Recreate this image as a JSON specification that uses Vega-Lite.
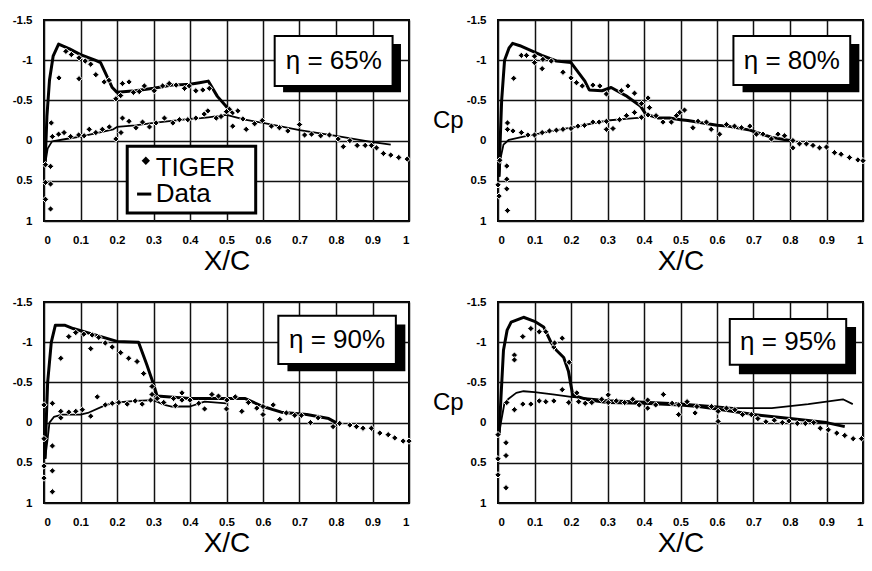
{
 "$schema": "https://vega.github.io/schema/vega-lite/v6.json",
 "padding": {"left": 11, "top": 13, "right": 5, "bottom": 5},
 "background": "white",
 "config": {
  "view": {"stroke": "#000", "strokeWidth": 2},
  "font": "Liberation Sans",
  "axis": {"grid": true, "gridColor": "#111", "gridWidth": 1.5, "gridOpacity": 1, "domain": false, "ticks": false, "labelOverlap": false, "labelFont": "Liberation Sans", "labelFontWeight": "bold", "labelFontSize": 11.5, "labelColor": "#000", "titleFont": "Liberation Sans", "titleFontWeight": "normal", "titleColor": "#000"},
  "axisX": {"labelPadding": 13, "titleFontSize": 28, "titlePadding": 2},
  "axisY": {"labelPadding": 12, "titleFontSize": 24, "titleAngle": 0, "titleAlign": "right", "titleBaseline": "middle", "titlePadding": 3}
 },
 "datasets": {
  "tiger": [
   {"p":"65","x":0.004,"cp":0.3},{"p":"65","x":0.018,"cp":0.32},{"p":"65","x":0.004,"cp":0.52},{"p":"65","x":0.018,"cp":0.54},{"p":"65","x":0.004,"cp":0.73},{"p":"65","x":0.018,"cp":0.85},{"p":"65","x":0.02,"cp":-0.22},
   {"p":"65","x":0.041,"cp":-0.78},{"p":"65","x":0.06,"cp":-1.11},{"p":"65","x":0.075,"cp":-1.07},{"p":"65","x":0.096,"cp":-1.03},{"p":"65","x":0.096,"cp":-0.77},{"p":"65","x":0.113,"cp":-0.99},{"p":"65","x":0.128,"cp":-0.95},{"p":"65","x":0.142,"cp":-0.82},{"p":"65","x":0.165,"cp":-0.73},{"p":"65","x":0.178,"cp":-0.75},{"p":"65","x":0.197,"cp":-0.52},{"p":"65","x":0.21,"cp":-0.56},{"p":"65","x":0.215,"cp":-0.71},{"p":"65","x":0.233,"cp":-0.73},{"p":"65","x":0.245,"cp":-0.6},{"p":"65","x":0.261,"cp":-0.61},{"p":"65","x":0.275,"cp":-0.68},{"p":"65","x":0.302,"cp":-0.62},{"p":"65","x":0.325,"cp":-0.68},{"p":"65","x":0.343,"cp":-0.71},{"p":"65","x":0.362,"cp":-0.69},{"p":"65","x":0.385,"cp":-0.65},{"p":"65","x":0.398,"cp":-0.68},{"p":"65","x":0.416,"cp":-0.62},{"p":"65","x":0.435,"cp":-0.63},{"p":"65","x":0.453,"cp":-0.65},{"p":"65","x":0.508,"cp":-0.39},
   {"p":"65","x":0.023,"cp":-0.05},{"p":"65","x":0.04,"cp":-0.08},{"p":"65","x":0.055,"cp":-0.1},{"p":"65","x":0.073,"cp":-0.05},{"p":"65","x":0.095,"cp":-0.07},{"p":"65","x":0.11,"cp":-0.06},{"p":"65","x":0.124,"cp":-0.14},{"p":"65","x":0.142,"cp":-0.1},{"p":"65","x":0.16,"cp":-0.14},{"p":"65","x":0.179,"cp":-0.17},{"p":"65","x":0.197,"cp":-0.02},{"p":"65","x":0.211,"cp":-0.1},{"p":"65","x":0.215,"cp":-0.28},{"p":"65","x":0.233,"cp":-0.24},{"p":"65","x":0.252,"cp":-0.16},{"p":"65","x":0.27,"cp":-0.23},{"p":"65","x":0.289,"cp":-0.17},{"p":"65","x":0.307,"cp":-0.22},{"p":"65","x":0.33,"cp":-0.28},{"p":"65","x":0.353,"cp":-0.22},{"p":"65","x":0.371,"cp":-0.26},{"p":"65","x":0.394,"cp":-0.26},{"p":"65","x":0.416,"cp":-0.28},{"p":"65","x":0.439,"cp":-0.33},{"p":"65","x":0.449,"cp":-0.37},{"p":"65","x":0.472,"cp":-0.28},{"p":"65","x":0.485,"cp":-0.3},{"p":"65","x":0.5,"cp":-0.36},{"p":"65","x":0.517,"cp":-0.18},{"p":"65","x":0.531,"cp":-0.37},{"p":"65","x":0.545,"cp":-0.27},{"p":"65","x":0.554,"cp":-0.14},{"p":"65","x":0.577,"cp":-0.21},{"p":"65","x":0.598,"cp":-0.25},{"p":"65","x":0.623,"cp":-0.18},{"p":"65","x":0.645,"cp":-0.16},{"p":"65","x":0.668,"cp":-0.12},{"p":"65","x":0.7,"cp":-0.2},{"p":"65","x":0.714,"cp":-0.07},{"p":"65","x":0.733,"cp":-0.08},{"p":"65","x":0.758,"cp":-0.06},{"p":"65","x":0.782,"cp":-0.07},{"p":"65","x":0.806,"cp":-0.02},{"p":"65","x":0.82,"cp":0.075},{"p":"65","x":0.838,"cp":0.0},{"p":"65","x":0.858,"cp":0.06},{"p":"65","x":0.88,"cp":0.06},{"p":"65","x":0.897,"cp":0.06},{"p":"65","x":0.911,"cp":0.09},{"p":"65","x":0.93,"cp":0.16},{"p":"65","x":0.95,"cp":0.18},{"p":"65","x":0.972,"cp":0.21},{"p":"65","x":0.995,"cp":0.23},
   {"p":"80","x":0.005,"cp":0.245},{"p":"80","x":0.024,"cp":0.316},{"p":"80","x":0.024,"cp":0.48},{"p":"80","x":0.0,"cp":0.55},{"p":"80","x":0.003,"cp":0.69},{"p":"80","x":0.024,"cp":0.6},{"p":"80","x":0.026,"cp":0.87},{"p":"80","x":0.026,"cp":-0.22},{"p":"80","x":0.026,"cp":-0.14},
   {"p":"80","x":0.043,"cp":-0.775},{"p":"80","x":0.064,"cp":-1.06},{"p":"80","x":0.078,"cp":-1.06},{"p":"80","x":0.1,"cp":-1.05},{"p":"80","x":0.1,"cp":-0.97},{"p":"80","x":0.121,"cp":-0.895},{"p":"80","x":0.123,"cp":-1.01},{"p":"80","x":0.146,"cp":-0.99},{"p":"80","x":0.178,"cp":-0.85},{"p":"80","x":0.2,"cp":-0.78},{"p":"80","x":0.215,"cp":-0.72},{"p":"80","x":0.231,"cp":-0.68},{"p":"80","x":0.26,"cp":-0.69},{"p":"80","x":0.279,"cp":-0.68},{"p":"80","x":0.297,"cp":-0.58},{"p":"80","x":0.338,"cp":-0.62},{"p":"80","x":0.356,"cp":-0.68},{"p":"80","x":0.374,"cp":-0.59},{"p":"80","x":0.393,"cp":-0.46},{"p":"80","x":0.411,"cp":-0.53},{"p":"80","x":0.415,"cp":-0.41},
   {"p":"80","x":0.041,"cp":-0.12},{"p":"80","x":0.064,"cp":-0.1},{"p":"80","x":0.082,"cp":-0.07},{"p":"80","x":0.1,"cp":-0.07},{"p":"80","x":0.121,"cp":-0.1},{"p":"80","x":0.141,"cp":-0.12},{"p":"80","x":0.16,"cp":-0.13},{"p":"80","x":0.178,"cp":-0.14},{"p":"80","x":0.2,"cp":-0.15},{"p":"80","x":0.219,"cp":-0.18},{"p":"80","x":0.237,"cp":-0.19},{"p":"80","x":0.26,"cp":-0.23},{"p":"80","x":0.277,"cp":-0.23},{"p":"80","x":0.297,"cp":-0.24},{"p":"80","x":0.297,"cp":-0.14},{"p":"80","x":0.315,"cp":-0.15},{"p":"80","x":0.333,"cp":-0.26},{"p":"80","x":0.352,"cp":-0.31},{"p":"80","x":0.374,"cp":-0.35},{"p":"80","x":0.393,"cp":-0.29},{"p":"80","x":0.411,"cp":-0.32},{"p":"80","x":0.433,"cp":-0.31},{"p":"80","x":0.452,"cp":-0.23},{"p":"80","x":0.475,"cp":-0.23},{"p":"80","x":0.489,"cp":-0.31},{"p":"80","x":0.498,"cp":-0.35},{"p":"80","x":0.511,"cp":-0.38},{"p":"80","x":0.534,"cp":-0.16},{"p":"80","x":0.548,"cp":-0.24},{"p":"80","x":0.571,"cp":-0.23},{"p":"80","x":0.584,"cp":-0.14},{"p":"80","x":0.607,"cp":-0.08},{"p":"80","x":0.626,"cp":-0.2},{"p":"80","x":0.648,"cp":-0.18},{"p":"80","x":0.667,"cp":-0.16},{"p":"80","x":0.69,"cp":-0.18},{"p":"80","x":0.708,"cp":-0.08},{"p":"80","x":0.726,"cp":-0.08},{"p":"80","x":0.749,"cp":-0.02},{"p":"80","x":0.767,"cp":-0.08},{"p":"80","x":0.785,"cp":-0.06},{"p":"80","x":0.808,"cp":0.09},{"p":"80","x":0.808,"cp":0.0},{"p":"80","x":0.826,"cp":0.04},{"p":"80","x":0.845,"cp":0.04},{"p":"80","x":0.863,"cp":0.06},{"p":"80","x":0.881,"cp":0.09},{"p":"80","x":0.9,"cp":0.08},{"p":"80","x":0.922,"cp":0.15},{"p":"80","x":0.94,"cp":0.17},{"p":"80","x":0.963,"cp":0.21},{"p":"80","x":0.986,"cp":0.24},{"p":"80","x":1.0,"cp":0.25},
   {"p":"90","x":0.0,"cp":-0.22},{"p":"90","x":0.0,"cp":0.2},{"p":"90","x":0.023,"cp":0.29},{"p":"90","x":0.0,"cp":0.54},{"p":"90","x":0.023,"cp":0.6},{"p":"90","x":0.0,"cp":0.69},{"p":"90","x":0.023,"cp":0.86},
   {"p":"90","x":0.046,"cp":-0.8},{"p":"90","x":0.068,"cp":-1.07},{"p":"90","x":0.087,"cp":-1.12},{"p":"90","x":0.109,"cp":-1.1},{"p":"90","x":0.128,"cp":-0.92},{"p":"90","x":0.132,"cp":-1.09},{"p":"90","x":0.15,"cp":-1.06},{"p":"90","x":0.168,"cp":-0.99},{"p":"90","x":0.187,"cp":-0.94},{"p":"90","x":0.21,"cp":-0.87},{"p":"90","x":0.232,"cp":-0.8},{"p":"90","x":0.255,"cp":-0.76},{"p":"90","x":0.273,"cp":-0.61},{"p":"90","x":0.296,"cp":-0.45},{"p":"90","x":0.296,"cp":-0.35},
   {"p":"90","x":0.023,"cp":-0.24},{"p":"90","x":0.046,"cp":-0.14},{"p":"90","x":0.046,"cp":-0.06},{"p":"90","x":0.068,"cp":-0.13},{"p":"90","x":0.087,"cp":-0.14},{"p":"90","x":0.105,"cp":-0.16},{"p":"90","x":0.128,"cp":-0.08},{"p":"90","x":0.146,"cp":-0.32},{"p":"90","x":0.168,"cp":-0.22},{"p":"90","x":0.187,"cp":-0.24},{"p":"90","x":0.205,"cp":-0.25},{"p":"90","x":0.228,"cp":-0.23},{"p":"90","x":0.25,"cp":-0.27},{"p":"90","x":0.269,"cp":-0.23},{"p":"90","x":0.292,"cp":-0.28},{"p":"90","x":0.31,"cp":-0.3},{"p":"90","x":0.328,"cp":-0.25},{"p":"90","x":0.355,"cp":-0.3},{"p":"90","x":0.36,"cp":-0.21},{"p":"90","x":0.378,"cp":-0.37},{"p":"90","x":0.378,"cp":-0.28},{"p":"90","x":0.4,"cp":-0.28},{"p":"90","x":0.424,"cp":-0.24},{"p":"90","x":0.44,"cp":-0.17},{"p":"90","x":0.46,"cp":-0.35},{"p":"90","x":0.478,"cp":-0.33},{"p":"90","x":0.5,"cp":-0.17},{"p":"90","x":0.501,"cp":-0.28},{"p":"90","x":0.524,"cp":-0.32},{"p":"90","x":0.542,"cp":-0.14},{"p":"90","x":0.56,"cp":-0.25},{"p":"90","x":0.583,"cp":-0.18},{"p":"90","x":0.6,"cp":-0.2},{"p":"90","x":0.6,"cp":-0.1},{"p":"90","x":0.628,"cp":-0.22},{"p":"90","x":0.646,"cp":-0.04},{"p":"90","x":0.664,"cp":-0.12},{"p":"90","x":0.687,"cp":-0.09},{"p":"90","x":0.705,"cp":-0.09},{"p":"90","x":0.73,"cp":0.0},{"p":"90","x":0.751,"cp":-0.06},{"p":"90","x":0.792,"cp":0.05},{"p":"90","x":0.81,"cp":0.01},{"p":"90","x":0.838,"cp":0.03},{"p":"90","x":0.856,"cp":0.05},{"p":"90","x":0.874,"cp":0.07},{"p":"90","x":0.897,"cp":0.07},{"p":"90","x":0.92,"cp":0.13},{"p":"90","x":0.943,"cp":0.15},{"p":"90","x":0.961,"cp":0.19},{"p":"90","x":0.984,"cp":0.23},{"p":"90","x":1.0,"cp":0.23},
   {"p":"95","x":0.0,"cp":0.15},{"p":"95","x":0.022,"cp":0.25},{"p":"95","x":0.0,"cp":0.45},{"p":"95","x":0.022,"cp":0.41},{"p":"95","x":0.0,"cp":0.65},{"p":"95","x":0.022,"cp":0.81},{"p":"95","x":0.024,"cp":-0.25},
   {"p":"95","x":0.045,"cp":-0.84},{"p":"95","x":0.045,"cp":-0.78},{"p":"95","x":0.068,"cp":-1.07},{"p":"95","x":0.09,"cp":-1.17},{"p":"95","x":0.113,"cp":-1.13},{"p":"95","x":0.131,"cp":-1.13},{"p":"95","x":0.153,"cp":-0.94},{"p":"95","x":0.155,"cp":-0.99},{"p":"95","x":0.176,"cp":-1.05},{"p":"95","x":0.195,"cp":-0.75},{"p":"95","x":0.216,"cp":-0.37},
   {"p":"95","x":0.045,"cp":-0.16},{"p":"95","x":0.068,"cp":-0.23},{"p":"95","x":0.09,"cp":-0.23},{"p":"95","x":0.113,"cp":-0.27},{"p":"95","x":0.131,"cp":-0.26},{"p":"95","x":0.153,"cp":-0.27},{"p":"95","x":0.176,"cp":-0.41},{"p":"95","x":0.194,"cp":-0.25},{"p":"95","x":0.221,"cp":-0.26},{"p":"95","x":0.239,"cp":-0.24},{"p":"95","x":0.257,"cp":-0.25},{"p":"95","x":0.284,"cp":-0.29},{"p":"95","x":0.302,"cp":-0.345},{"p":"95","x":0.302,"cp":-0.25},{"p":"95","x":0.324,"cp":-0.27},{"p":"95","x":0.347,"cp":-0.25},{"p":"95","x":0.369,"cp":-0.29},{"p":"95","x":0.387,"cp":-0.22},{"p":"95","x":0.41,"cp":-0.28},{"p":"95","x":0.41,"cp":-0.18},{"p":"95","x":0.432,"cp":-0.22},{"p":"95","x":0.453,"cp":-0.35},{"p":"95","x":0.477,"cp":-0.24},{"p":"95","x":0.495,"cp":-0.22},{"p":"95","x":0.495,"cp":-0.1},{"p":"95","x":0.518,"cp":-0.26},{"p":"95","x":0.54,"cp":-0.12},{"p":"95","x":0.545,"cp":-0.2},{"p":"95","x":0.585,"cp":-0.2},{"p":"95","x":0.603,"cp":-0.14},{"p":"95","x":0.603,"cp":-0.015},{"p":"95","x":0.626,"cp":-0.18},{"p":"95","x":0.649,"cp":-0.16},{"p":"95","x":0.67,"cp":-0.1},{"p":"95","x":0.694,"cp":-0.1},{"p":"95","x":0.712,"cp":-0.05},{"p":"95","x":0.734,"cp":-0.01},{"p":"95","x":0.757,"cp":-0.03},{"p":"95","x":0.779,"cp":0.0},{"p":"95","x":0.797,"cp":-0.02},{"p":"95","x":0.82,"cp":0.01},{"p":"95","x":0.842,"cp":0.01},{"p":"95","x":0.865,"cp":0.0},{"p":"95","x":0.883,"cp":0.07},{"p":"95","x":0.905,"cp":0.09},{"p":"95","x":0.928,"cp":0.13},{"p":"95","x":0.95,"cp":0.16},{"p":"95","x":0.973,"cp":0.2},{"p":"95","x":0.996,"cp":0.2}
  ],
  "exp": [
   {"p":"65","s":"u","x":0.003,"cp":0.3},{"p":"65","s":"u","x":0.008,"cp":-0.3},{"p":"65","s":"u","x":0.015,"cp":-0.75},{"p":"65","s":"u","x":0.025,"cp":-1.05},{"p":"65","s":"u","x":0.04,"cp":-1.2},{"p":"65","s":"u","x":0.07,"cp":-1.14},{"p":"65","s":"u","x":0.1,"cp":-1.07},{"p":"65","s":"u","x":0.14,"cp":-1.0},{"p":"65","s":"u","x":0.155,"cp":-0.97},{"p":"65","s":"u","x":0.187,"cp":-0.66},{"p":"65","s":"u","x":0.2,"cp":-0.6},{"p":"65","s":"u","x":0.25,"cp":-0.62},{"p":"65","s":"u","x":0.3,"cp":-0.65},{"p":"65","s":"u","x":0.35,"cp":-0.69},{"p":"65","s":"u","x":0.4,"cp":-0.7},{"p":"65","s":"u","x":0.426,"cp":-0.72},{"p":"65","s":"u","x":0.45,"cp":-0.74},{"p":"65","s":"u","x":0.475,"cp":-0.55},{"p":"65","s":"u","x":0.5,"cp":-0.42},{"p":"65","s":"u","x":0.52,"cp":-0.33},
   {"p":"65","s":"l","x":0.003,"cp":0.3},{"p":"65","s":"l","x":0.01,"cp":0.1},{"p":"65","s":"l","x":0.022,"cp":0.01},{"p":"65","s":"l","x":0.06,"cp":-0.02},{"p":"65","s":"l","x":0.1,"cp":-0.05},{"p":"65","s":"l","x":0.15,"cp":-0.1},{"p":"65","s":"l","x":0.19,"cp":-0.14},{"p":"65","s":"l","x":0.2,"cp":-0.17},{"p":"65","s":"l","x":0.25,"cp":-0.19},{"p":"65","s":"l","x":0.3,"cp":-0.22},{"p":"65","s":"l","x":0.4,"cp":-0.27},{"p":"65","s":"l","x":0.43,"cp":-0.28},{"p":"65","s":"l","x":0.45,"cp":-0.29},{"p":"65","s":"l","x":0.5,"cp":-0.32},{"p":"65","s":"l","x":0.55,"cp":-0.26},{"p":"65","s":"l","x":0.6,"cp":-0.22},{"p":"65","s":"l","x":0.7,"cp":-0.13},{"p":"65","s":"l","x":0.8,"cp":-0.06},{"p":"65","s":"l","x":0.9,"cp":0.02},{"p":"65","s":"l","x":0.95,"cp":0.05},
   {"p":"80","s":"u","x":0.003,"cp":0.45},{"p":"80","s":"u","x":0.006,"cp":0.0},{"p":"80","s":"u","x":0.01,"cp":-0.5},{"p":"80","s":"u","x":0.018,"cp":-1.0},{"p":"80","s":"u","x":0.03,"cp":-1.15},{"p":"80","s":"u","x":0.04,"cp":-1.21},{"p":"80","s":"u","x":0.06,"cp":-1.18},{"p":"80","s":"u","x":0.08,"cp":-1.14},{"p":"80","s":"u","x":0.12,"cp":-1.06},{"p":"80","s":"u","x":0.16,"cp":-0.99},{"p":"80","s":"u","x":0.2,"cp":-0.97},{"p":"80","s":"u","x":0.238,"cp":-0.74},{"p":"80","s":"u","x":0.25,"cp":-0.63},{"p":"80","s":"u","x":0.285,"cp":-0.62},{"p":"80","s":"u","x":0.31,"cp":-0.66},{"p":"80","s":"u","x":0.35,"cp":-0.56},{"p":"80","s":"u","x":0.39,"cp":-0.43},{"p":"80","s":"u","x":0.405,"cp":-0.33},{"p":"80","s":"u","x":0.44,"cp":-0.28},{"p":"80","s":"u","x":0.47,"cp":-0.28},{"p":"80","s":"u","x":0.5,"cp":-0.26},{"p":"80","s":"u","x":0.52,"cp":-0.25},{"p":"80","s":"u","x":0.6,"cp":-0.19},{"p":"80","s":"u","x":0.63,"cp":-0.18},{"p":"80","s":"u","x":0.69,"cp":-0.13},{"p":"80","s":"u","x":0.75,"cp":-0.04},{"p":"80","s":"u","x":0.8,"cp":0.0},
   {"p":"80","s":"l","x":0.003,"cp":0.45},{"p":"80","s":"l","x":0.008,"cp":0.2},{"p":"80","s":"l","x":0.015,"cp":0.05},{"p":"80","s":"l","x":0.03,"cp":-0.01},{"p":"80","s":"l","x":0.07,"cp":-0.05},{"p":"80","s":"l","x":0.15,"cp":-0.12},{"p":"80","s":"l","x":0.2,"cp":-0.16},{"p":"80","s":"l","x":0.3,"cp":-0.25},{"p":"80","s":"l","x":0.35,"cp":-0.27},{"p":"80","s":"l","x":0.4,"cp":-0.29},
   {"p":"90","s":"u","x":0.003,"cp":0.45},{"p":"90","s":"u","x":0.006,"cp":0.0},{"p":"90","s":"u","x":0.01,"cp":-0.5},{"p":"90","s":"u","x":0.02,"cp":-1.0},{"p":"90","s":"u","x":0.031,"cp":-1.21},{"p":"90","s":"u","x":0.058,"cp":-1.21},{"p":"90","s":"u","x":0.08,"cp":-1.17},{"p":"90","s":"u","x":0.2,"cp":-1.01},{"p":"90","s":"u","x":0.259,"cp":-1.0},{"p":"90","s":"u","x":0.281,"cp":-0.73},{"p":"90","s":"u","x":0.3,"cp":-0.48},{"p":"90","s":"u","x":0.31,"cp":-0.33},{"p":"90","s":"u","x":0.4,"cp":-0.3},{"p":"90","s":"u","x":0.5,"cp":-0.3},{"p":"90","s":"u","x":0.55,"cp":-0.3},{"p":"90","s":"u","x":0.6,"cp":-0.2},{"p":"90","s":"u","x":0.65,"cp":-0.13},{"p":"90","s":"u","x":0.72,"cp":-0.1},{"p":"90","s":"u","x":0.78,"cp":-0.05},{"p":"90","s":"u","x":0.8,"cp":0.0},
   {"p":"90","s":"l","x":0.003,"cp":0.45},{"p":"90","s":"l","x":0.01,"cp":0.2},{"p":"90","s":"l","x":0.015,"cp":0.0},{"p":"90","s":"l","x":0.027,"cp":-0.07},{"p":"90","s":"l","x":0.05,"cp":-0.1},{"p":"90","s":"l","x":0.1,"cp":-0.1},{"p":"90","s":"l","x":0.12,"cp":-0.12},{"p":"90","s":"l","x":0.17,"cp":-0.22},{"p":"90","s":"l","x":0.2,"cp":-0.25},{"p":"90","s":"l","x":0.25,"cp":-0.27},{"p":"90","s":"l","x":0.3,"cp":-0.28},{"p":"90","s":"l","x":0.33,"cp":-0.22},{"p":"90","s":"l","x":0.35,"cp":-0.2},{"p":"90","s":"l","x":0.4,"cp":-0.2},{"p":"90","s":"l","x":0.44,"cp":-0.26},{"p":"90","s":"l","x":0.5,"cp":-0.24},
   {"p":"95","s":"u","x":0.003,"cp":0.15},{"p":"95","s":"u","x":0.008,"cp":-0.3},{"p":"95","s":"u","x":0.015,"cp":-0.9},{"p":"95","s":"u","x":0.025,"cp":-1.15},{"p":"95","s":"u","x":0.036,"cp":-1.25},{"p":"95","s":"u","x":0.07,"cp":-1.31},{"p":"95","s":"u","x":0.1,"cp":-1.26},{"p":"95","s":"u","x":0.125,"cp":-1.19},{"p":"95","s":"u","x":0.145,"cp":-1.0},{"p":"95","s":"u","x":0.16,"cp":-0.9},{"p":"95","s":"u","x":0.18,"cp":-0.81},{"p":"95","s":"u","x":0.193,"cp":-0.64},{"p":"95","s":"u","x":0.2,"cp":-0.46},{"p":"95","s":"u","x":0.205,"cp":-0.34},{"p":"95","s":"u","x":0.25,"cp":-0.28},{"p":"95","s":"u","x":0.3,"cp":-0.25},{"p":"95","s":"u","x":0.4,"cp":-0.24},{"p":"95","s":"u","x":0.5,"cp":-0.22},{"p":"95","s":"u","x":0.55,"cp":-0.2},{"p":"95","s":"u","x":0.6,"cp":-0.17},{"p":"95","s":"u","x":0.7,"cp":-0.1},{"p":"95","s":"u","x":0.8,"cp":-0.05},{"p":"95","s":"u","x":0.9,"cp":0.0},{"p":"95","s":"u","x":0.95,"cp":0.05},
   {"p":"95","s":"l","x":0.003,"cp":0.15},{"p":"95","s":"l","x":0.008,"cp":0.0},{"p":"95","s":"l","x":0.018,"cp":-0.25},{"p":"95","s":"l","x":0.03,"cp":-0.3},{"p":"95","s":"l","x":0.05,"cp":-0.37},{"p":"95","s":"l","x":0.07,"cp":-0.39},{"p":"95","s":"l","x":0.1,"cp":-0.38},{"p":"95","s":"l","x":0.15,"cp":-0.35},{"p":"95","s":"l","x":0.2,"cp":-0.32},{"p":"95","s":"l","x":0.3,"cp":-0.28},{"p":"95","s":"l","x":0.4,"cp":-0.26},{"p":"95","s":"l","x":0.5,"cp":-0.24},{"p":"95","s":"l","x":0.6,"cp":-0.2},{"p":"95","s":"l","x":0.65,"cp":-0.18},{"p":"95","s":"l","x":0.75,"cp":-0.18},{"p":"95","s":"l","x":0.85,"cp":-0.23},{"p":"95","s":"l","x":0.945,"cp":-0.29},{"p":"95","s":"l","x":0.972,"cp":-0.23}
  ],
  "notes": [
   {"p":"65","k":"shadow","x":0.655,"x2":0.978,"cp":-1.2,"cp2":-0.6},
   {"p":"65","k":"box","x":0.632,"x2":0.955,"cp":-1.3,"cp2":-0.68},
   {"p":"80","k":"shadow","x":0.67,"x2":0.99,"cp":-1.2,"cp2":-0.6},
   {"p":"80","k":"box","x":0.645,"x2":0.965,"cp":-1.3,"cp2":-0.69},
   {"p":"90","k":"shadow","x":0.667,"x2":0.99,"cp":-1.22,"cp2":-0.64},
   {"p":"90","k":"box","x":0.642,"x2":0.964,"cp":-1.33,"cp2":-0.73},
   {"p":"95","k":"shadow","x":0.66,"x2":0.981,"cp":-1.19,"cp2":-0.6},
   {"p":"95","k":"box","x":0.635,"x2":0.954,"cp":-1.29,"cp2":-0.72}
  ],
  "labels": [
   {"p":"65","t":"η = 65%","x":0.794,"cp":-0.99},
   {"p":"80","t":"η = 80%","x":0.805,"cp":-0.995},
   {"p":"90","t":"η = 90%","x":0.803,"cp":-1.03},
   {"p":"95","t":"η = 95%","x":0.795,"cp":-1.005}
  ],
  "legend": [
   {"t":"TIGER","x":0.306,"cp":0.335,"mx":0.279,"mcp":0.25},
   {"t":"Data","x":0.306,"cp":0.67,"mx":0.255,"mx2":0.294,"mcp":0.665}
  ]
 },
 "spacing": 18,
 "vconcat": [
  {"hconcat": [
   {"width": 365, "height": 201,
    "encoding": {
     "x": {"field": "x", "type": "quantitative", "scale": {"domain": [0, 1], "nice": false}, "axis": {"grid": true, "values": [0,0.1,0.2,0.3,0.4,0.5,0.6,0.7,0.8,0.9,1], "labelExpr": "'' + datum.value", "title": "X/C"}},
     "y": {"field": "cp", "type": "quantitative", "scale": {"domain": [-1.5, 1], "reverse": true, "nice": false, "zero": false}, "axis": {"grid": true, "values": [-1.5,-1,-0.5,0,0.5,1], "labelExpr": "'' + datum.value", "title": null}}
    },
    "layer": [
     {"data": {"name": "exp"}, "transform": [{"filter": "datum.p == '65'"}],
      "mark": {"type": "line", "color": "#000", "strokeJoin": "round"},
      "encoding": {"detail": {"field": "s"}, "strokeWidth": {"field": "s", "type": "nominal", "scale": {"domain": ["u","l"], "range": [3, 1.8]}, "legend": null}}},
     {"data": {"name": "tiger"}, "transform": [{"filter": "datum.p == '65'"}],
      "mark": {"type": "point", "shape": "diamond", "filled": true, "fill": "#000", "stroke": "#fff", "strokeWidth": 1, "size": 40, "opacity": 1},
      "encoding": {}},
     {"data": {"name": "notes"}, "transform": [{"filter": "datum.p == '65' && datum.k == 'shadow'"}], "mark": {"type": "rect", "fill": "#000"},
      "encoding": {"x2": {"field": "x2"}, "y2": {"field": "cp2"}}},
     {"data": {"name": "notes"}, "transform": [{"filter": "datum.p == '65' && datum.k == 'box'"}], "mark": {"type": "rect", "fill": "#fff", "stroke": "#000", "strokeWidth": 2},
      "encoding": {"x2": {"field": "x2"}, "y2": {"field": "cp2"}}},
     {"data": {"name": "labels"}, "transform": [{"filter": "datum.p == '65'"}], "mark": {"type": "text", "fontSize": 26, "font": "Liberation Sans", "color": "#000", "align": "center", "baseline": "middle"},
      "encoding": {"text": {"field": "t"}}},
     {"data": {"values": [{"x": 0.228, "x2": 0.58, "cp": 0.07, "cp2": 0.9}]}, "mark": {"type": "rect", "fill": "#fff", "stroke": "#000", "strokeWidth": 3},
      "encoding": {"x2": {"field": "x2"}, "y2": {"field": "cp2"}}},
     {"data": {"name": "legend"}, "transform": [{"filter": "datum.t == 'TIGER'"}], "mark": {"type": "point", "shape": "diamond", "filled": true, "fill": "#000", "size": 70, "opacity": 1},
      "encoding": {"x": {"field": "mx", "type": "quantitative"}, "y": {"field": "mcp", "type": "quantitative"}}},
     {"data": {"name": "legend"}, "transform": [{"filter": "datum.t == 'Data'"}], "mark": {"type": "rule", "color": "#000", "strokeWidth": 3},
      "encoding": {"x": {"field": "mx", "type": "quantitative"}, "x2": {"field": "mx2"}, "y": {"field": "mcp", "type": "quantitative"}}},
     {"data": {"name": "legend"}, "mark": {"type": "text", "fontSize": 26, "font": "Liberation Sans", "color": "#000", "align": "left", "baseline": "middle"},
      "encoding": {"text": {"field": "t"}}}
    ]},
   {"width": 365, "height": 201,
    "encoding": {
     "x": {"field": "x", "type": "quantitative", "scale": {"domain": [0, 1], "nice": false}, "axis": {"grid": true, "values": [0,0.1,0.2,0.3,0.4,0.5,0.6,0.7,0.8,0.9,1], "labelExpr": "'' + datum.value", "title": "X/C"}},
     "y": {"field": "cp", "type": "quantitative", "scale": {"domain": [-1.5, 1], "reverse": true, "nice": false, "zero": false}, "axis": {"grid": true, "values": [-1.5,-1,-0.5,0,0.5,1], "labelExpr": "'' + datum.value", "title": "Cp"}}
    },
    "layer": [
     {"data": {"name": "exp"}, "transform": [{"filter": "datum.p == '80'"}],
      "mark": {"type": "line", "color": "#000", "strokeJoin": "round"},
      "encoding": {"detail": {"field": "s"}, "strokeWidth": {"field": "s", "type": "nominal", "scale": {"domain": ["u","l"], "range": [3, 1.8]}, "legend": null}}},
     {"data": {"name": "tiger"}, "transform": [{"filter": "datum.p == '80'"}],
      "mark": {"type": "point", "shape": "diamond", "filled": true, "fill": "#000", "stroke": "#fff", "strokeWidth": 1, "size": 40, "opacity": 1},
      "encoding": {}},
     {"data": {"name": "notes"}, "transform": [{"filter": "datum.p == '80' && datum.k == 'shadow'"}], "mark": {"type": "rect", "fill": "#000"},
      "encoding": {"x2": {"field": "x2"}, "y2": {"field": "cp2"}}},
     {"data": {"name": "notes"}, "transform": [{"filter": "datum.p == '80' && datum.k == 'box'"}], "mark": {"type": "rect", "fill": "#fff", "stroke": "#000", "strokeWidth": 2},
      "encoding": {"x2": {"field": "x2"}, "y2": {"field": "cp2"}}},
     {"data": {"name": "labels"}, "transform": [{"filter": "datum.p == '80'"}], "mark": {"type": "text", "fontSize": 26, "font": "Liberation Sans", "color": "#000", "align": "center", "baseline": "middle"},
      "encoding": {"text": {"field": "t"}}}
    ]}
  ], "spacing": 89, "bounds": "flush"},
  {"hconcat": [
   {"width": 365, "height": 201,
    "encoding": {
     "x": {"field": "x", "type": "quantitative", "scale": {"domain": [0, 1], "nice": false}, "axis": {"grid": true, "values": [0,0.1,0.2,0.3,0.4,0.5,0.6,0.7,0.8,0.9,1], "labelExpr": "'' + datum.value", "title": "X/C"}},
     "y": {"field": "cp", "type": "quantitative", "scale": {"domain": [-1.5, 1], "reverse": true, "nice": false, "zero": false}, "axis": {"grid": true, "values": [-1.5,-1,-0.5,0,0.5,1], "labelExpr": "'' + datum.value", "title": null}}
    },
    "layer": [
     {"data": {"name": "exp"}, "transform": [{"filter": "datum.p == '90'"}],
      "mark": {"type": "line", "color": "#000", "strokeJoin": "round"},
      "encoding": {"detail": {"field": "s"}, "strokeWidth": {"field": "s", "type": "nominal", "scale": {"domain": ["u","l"], "range": [3, 1.8]}, "legend": null}}},
     {"data": {"name": "tiger"}, "transform": [{"filter": "datum.p == '90'"}],
      "mark": {"type": "point", "shape": "diamond", "filled": true, "fill": "#000", "stroke": "#fff", "strokeWidth": 1, "size": 40, "opacity": 1},
      "encoding": {}},
     {"data": {"name": "notes"}, "transform": [{"filter": "datum.p == '90' && datum.k == 'shadow'"}], "mark": {"type": "rect", "fill": "#000"},
      "encoding": {"x2": {"field": "x2"}, "y2": {"field": "cp2"}}},
     {"data": {"name": "notes"}, "transform": [{"filter": "datum.p == '90' && datum.k == 'box'"}], "mark": {"type": "rect", "fill": "#fff", "stroke": "#000", "strokeWidth": 2},
      "encoding": {"x2": {"field": "x2"}, "y2": {"field": "cp2"}}},
     {"data": {"name": "labels"}, "transform": [{"filter": "datum.p == '90'"}], "mark": {"type": "text", "fontSize": 26, "font": "Liberation Sans", "color": "#000", "align": "center", "baseline": "middle"},
      "encoding": {"text": {"field": "t"}}}
    ]},
   {"width": 365, "height": 201,
    "encoding": {
     "x": {"field": "x", "type": "quantitative", "scale": {"domain": [0, 1], "nice": false}, "axis": {"grid": true, "values": [0,0.1,0.2,0.3,0.4,0.5,0.6,0.7,0.8,0.9,1], "labelExpr": "'' + datum.value", "title": "X/C"}},
     "y": {"field": "cp", "type": "quantitative", "scale": {"domain": [-1.5, 1], "reverse": true, "nice": false, "zero": false}, "axis": {"grid": true, "values": [-1.5,-1,-0.5,0,0.5,1], "labelExpr": "'' + datum.value", "title": "Cp"}}
    },
    "layer": [
     {"data": {"name": "exp"}, "transform": [{"filter": "datum.p == '95'"}],
      "mark": {"type": "line", "color": "#000", "strokeJoin": "round"},
      "encoding": {"detail": {"field": "s"}, "strokeWidth": {"field": "s", "type": "nominal", "scale": {"domain": ["u","l"], "range": [3, 1.8]}, "legend": null}}},
     {"data": {"name": "tiger"}, "transform": [{"filter": "datum.p == '95'"}],
      "mark": {"type": "point", "shape": "diamond", "filled": true, "fill": "#000", "stroke": "#fff", "strokeWidth": 1, "size": 40, "opacity": 1},
      "encoding": {}},
     {"data": {"name": "notes"}, "transform": [{"filter": "datum.p == '95' && datum.k == 'shadow'"}], "mark": {"type": "rect", "fill": "#000"},
      "encoding": {"x2": {"field": "x2"}, "y2": {"field": "cp2"}}},
     {"data": {"name": "notes"}, "transform": [{"filter": "datum.p == '95' && datum.k == 'box'"}], "mark": {"type": "rect", "fill": "#fff", "stroke": "#000", "strokeWidth": 2},
      "encoding": {"x2": {"field": "x2"}, "y2": {"field": "cp2"}}},
     {"data": {"name": "labels"}, "transform": [{"filter": "datum.p == '95'"}], "mark": {"type": "text", "fontSize": 26, "font": "Liberation Sans", "color": "#000", "align": "center", "baseline": "middle"},
      "encoding": {"text": {"field": "t"}}}
    ]}
  ], "spacing": 89, "bounds": "flush"}
 ]
}
